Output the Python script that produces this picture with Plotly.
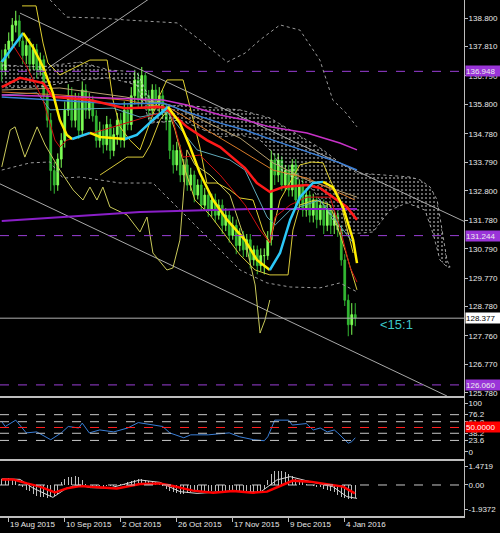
import plotly.graph_objects as go

# ---------------- price bars (daily, 17 Aug 2015 .. 7 Jan 2016) ----------------
opens = [137.30,137.00,137.70,138.00,138.55,138.70,138.00,137.50,137.85,137.20,
 137.70,137.00,137.35,136.10,135.25,133.50,133.00,133.90,134.55,135.60,
 136.10,135.25,135.95,134.90,136.30,135.60,135.95,135.40,134.55,134.90,
 134.40,135.10,134.20,134.75,135.25,134.55,135.60,135.10,136.10,136.65,
 135.95,136.80,136.10,135.60,136.30,135.80,136.10,135.60,135.25,134.20,
 133.70,134.20,133.35,133.70,133.00,133.35,132.65,133.00,132.30,132.65,
 132.13,132.48,131.95,132.30,131.60,131.95,131.25,131.60,130.90,131.25,
 130.75,131.10,130.40,130.75,130.20,130.55,130.55,131.10,133.87,133.35,
 133.87,133.00,133.50,132.83,133.70,132.48,133.00,132.13,132.65,131.95,
 132.48,131.80,132.30,131.60,132.13,131.60,131.95,131.44,130.40,129.00,
 128.15,128.50]
highs = [137.70,137.90,138.30,138.80,139.05,138.90,138.30,138.10,138.10,137.90,
 137.90,137.60,137.50,136.40,135.50,133.80,134.10,134.80,135.90,136.50,
 136.40,136.20,136.20,136.60,136.50,136.20,136.10,135.60,135.20,135.10,
 135.40,135.30,135.00,135.50,135.50,135.90,135.80,136.40,137.00,136.90,
 137.10,136.90,136.30,136.50,136.50,136.40,136.30,135.80,135.40,134.40,
 134.50,134.40,133.90,133.90,133.60,133.50,133.20,133.20,132.90,132.80,
 132.70,132.70,132.50,132.50,132.20,132.10,131.90,131.80,131.50,131.40,
 131.30,131.30,130.90,130.90,130.80,130.80,131.40,134.20,134.10,134.10,
 134.00,133.70,133.70,133.90,133.90,133.20,133.20,132.90,132.80,132.70,
 132.60,132.50,132.50,132.40,132.30,132.20,132.10,131.60,130.60,129.20,
 128.90,128.90]
lows = [136.60,136.80,137.40,137.80,138.30,137.80,137.20,137.20,136.90,137.00,
 136.70,136.80,135.90,135.00,132.80,132.70,132.80,133.60,134.30,135.40,
 135.00,135.00,134.60,134.70,135.30,135.30,135.20,134.30,134.30,134.10,
 134.20,133.90,134.00,134.40,134.30,134.30,134.90,134.90,135.80,135.70,
 135.70,135.90,135.30,135.40,135.60,135.50,135.30,134.90,133.90,133.40,
 133.50,133.10,133.10,132.80,132.80,132.40,132.50,132.10,132.10,131.90,
 131.90,131.70,131.80,131.30,131.40,131.00,131.10,130.60,130.70,130.50,
 130.50,130.10,130.20,129.90,130.00,129.90,130.40,130.90,133.00,133.10,
 132.80,132.80,132.60,132.60,132.20,132.20,131.90,131.90,131.70,131.70,
 131.50,131.60,131.30,131.40,131.30,131.30,131.20,130.20,128.80,127.75,
 127.80,128.10]
closes = [137.00,137.70,138.00,138.55,138.70,138.00,137.50,137.85,137.20,137.70,
 137.00,137.35,136.10,135.25,133.50,133.00,133.90,134.55,135.60,136.10,
 135.25,135.95,134.90,136.30,135.60,135.95,135.40,134.55,134.90,134.40,
 135.10,134.20,134.75,135.25,134.55,135.60,135.10,136.10,136.65,135.95,
 136.80,136.10,135.60,136.30,135.80,136.10,135.60,135.25,134.20,133.70,
 134.20,133.35,133.70,133.00,133.35,132.65,133.00,132.30,132.65,132.13,
 132.48,131.95,132.30,131.60,131.95,131.25,131.60,130.90,131.25,130.75,
 131.10,130.40,130.75,130.20,130.55,130.55,131.10,133.87,133.35,133.87,
 133.00,133.50,132.83,133.70,132.48,133.00,132.13,132.65,131.95,132.48,
 131.80,132.30,131.60,132.13,131.60,131.95,131.44,130.40,129.00,128.15,
 128.50,128.38]
bars = list(range(len(closes)))

# date labels (bar index of each labelled date)
date_tick_bars = [2, 18, 34, 50, 66, 82, 98]
date_tick_text = ["19 Aug 2015", "10 Sep 2015", "2 Oct 2015", "26 Oct 2015",
                  "17 Nov 2015", "9 Dec 2015", "4 Jan 2016"]

price_ticks = [138.800, 137.810, 136.790, 135.800, 134.780, 133.790, 132.800,
               131.780, 130.790, 129.770, 128.780, 127.760, 126.770, 125.780]

# ---------------- overlay indicators (bar index, price) ----------------
ma_x = [0,6.1,8.9,11.8,14.6,16.6,18.6,20.1,25.2,28.1,35.2,38.6,43.2,47.5,50.9,53.8,
        56.6,60.4,64.4,69.5,72.9,76.6,79.5,82.4,85.2,88.9,91.8,94.6,97.5,100.4,101.5]
ma_y = [137.27,138.28,137.79,137.10,136.20,135.26,134.74,134.60,134.81,134.67,134.60,
        134.74,135.26,135.71,135.15,134.32,133.42,132.48,131.79,131.09,130.40,130.05,
        130.64,131.79,132.58,133.07,133.11,132.93,132.24,131.09,130.29]

red_x = [0,5.2,11.8,14.6,25.2,35.2,46.1,48.1,52.9,58.6,62.4,69.5,72.9,76.6,80.4,87.2,
         90.9,94.6,98.6,101.5]
red_y = [136.40,136.72,136.54,136.06,135.95,135.67,135.71,135.54,135.02,134.56,134.32,
         133.59,133.07,132.76,132.93,133.00,132.90,132.58,132.24,131.79]

magenta_x = [0,22.4,46.1,52.9,62.4,69.5,76.6,87.2,96.6,101.5]
magenta_y = [136.13,136.06,135.95,135.78,135.43,135.26,135.02,134.81,134.46,134.22]

blue_x = [0,33.8,46.1,52.9,62.4,69.5,77.5,87.2,96.6,101.5]
blue_y = [136.06,135.81,135.85,135.54,135.15,134.91,134.56,134.15,133.77,133.52]

tan_x = [0,16.6,35.2,48.1,68.1,77.5,87.2,101.5]
tan_y = [136.30,136.37,136.06,135.78,134.63,133.77,133.18,132.58]

orange_x = [0,16.6,35.2,48.1,68.1,77.5,87.2,100.9]
orange_y = [136.23,136.13,135.95,135.67,134.22,133.52,133.24,132.48]

teal_x = [0,10.1,13.8,31.8,39.5,47.2,55.8,65.2,69.5,75.8,78.1,82.4,90.9,96.6,100.9]
teal_y = [136.13,136.20,135.61,135.67,135.36,135.54,134.22,133.87,133.52,131.89,131.61,
          132.13,132.48,131.61,130.92]

darkred_x = [0,3.2,7.2,11.8,15.2,16.6,18.6,22.4,33.8,48.1,51.8,56.6,62.4,69.5,73.8,76.6,
             78.1,82.4,87.2,93.8,96.6,99.5,101.5]
darkred_y = [137.24,137.86,137.10,135.95,134.56,134.32,134.56,134.67,135.09,135.61,133.97,
             134.04,133.35,132.31,131.44,130.99,131.89,132.31,132.58,132.58,131.54,130.15,129.63]

purple_x = [0,16.6,39.5,70.9,101.5]
purple_y = [131.75,131.89,132.06,132.17,132.17]

yel_a_x = [5.8,9.8,11.8,13.2,16.6,23.8,25.2,30.1,31.8,33.8,36.6,39.5,45.2,47.2,51.8,
           53.8,56.6,58.6,61.5,65.2,68.1,71.8,74.6,76.6,79.5,85.2,88.6,91.8,93.8,96.6,100.4]
yel_a_y = [139.22,139.22,137.93,137.24,136.82,137.27,137.34,137.34,135.95,135.02,134.56,
           134.22,136.13,136.65,136.65,135.71,134.32,133.07,133.07,132.83,132.55,132.48,
           131.44,130.99,132.48,133.70,133.80,133.77,133.18,132.48,130.64]

yel_b_x = [28.1,32.4,35.8,40.4,42.4,45.2,47.5,49.5,52.4,55.2,59.5,63.8,68.1,72.4,76.6,
           81.8,83.2,85.2,89.5,93.8,98.1,101.5]
yel_b_y = [133.35,133.70,133.97,133.97,134.39,135.26,135.61,134.91,133.52,132.48,131.96,
           131.27,130.57,130.05,129.88,129.88,131.44,132.31,132.48,132.31,130.74,129.36]

olive_x = [0,2.4,3.8,6.6,10.1,12.4,16.6,20.4,23.2,25.2,27.2,28.9,30.9,35.8,39.5,41.5,
           43.2,47.2,48.9,50.9,51.8,52.9,55.2,59.5,65.2,69.5,72.4,73.8,75.2,76.6]
olive_y = [133.63,134.91,135.02,133.97,135.02,134.39,133.52,132.83,132.48,132.93,132.48,
           132.93,132.24,131.96,131.37,131.89,130.64,130.05,130.12,131.09,132.48,134.22,
           133.70,133.35,132.65,131.09,129.53,127.86,128.31,129.01]

band_up_x = [13.8,18.6,28.1,35.8,50.1,56.6,64.4,69.5,73.8,79.5,85.2,90.9,94.6,98.1,101.5]
band_up_y = [139.43,138.83,138.80,138.73,138.63,138.04,137.27,137.58,138.04,138.56,
             138.38,137.34,135.95,135.54,135.02]
band_dn_x = [0,8.1,13.8,17.5,22.4,33.8,43.2,56.6,68.1,75.8,82.4,90.9,96.6,101.5]
band_dn_y = [133.52,133.77,133.80,133.24,133.28,133.07,133.07,131.44,130.05,129.60,
             129.46,129.43,129.60,129.29]

# Ichimoku cloud edges (extends into the future)
cloud_top_x = [0,10.9,22.4,30.9,38.6,42.4,46.6,50.9,68.1,76.6,82.4,87.2,91.8,96.6,101.5,
               108.9,116.6,119.5,122.4,124.4,125.8,127.2,128.1]
cloud_top_y = [137.17,137.10,137.27,136.99,136.93,135.95,135.71,135.78,135.61,135.33,
               134.91,134.56,134.22,133.77,133.42,133.35,133.28,133.18,132.93,132.48,
               131.44,130.40,130.15]
cloud_bot_x = [0,10.9,22.4,30.9,38.6,42.4,46.6,50.9,62.4,68.1,73.8,77.5,80.4,85.2,88.9,
               93.8,96.6,102.4,106.1,110.9,115.8,120.9,123.2,125.2,127.2,128.1]
cloud_bot_y = [136.37,136.40,136.65,136.72,136.47,135.15,135.19,135.26,134.67,134.74,
               134.56,134.11,133.42,133.18,132.83,131.96,131.33,131.33,131.37,132.13,
               132.38,132.13,131.33,130.40,130.15,130.15]

# trend lines (bar, price) pairs
trend_lines = [
    ([5.2, 132.4], [138.97, 131.72]),
    ([-0.5, 127.2], [133.04, 125.675]),
    ([13.2, 42.4], [137.06, 139.49]),
]

level_prices = [136.948, 131.244, 126.060]
current_price = 128.377

# ---------------- sub-window 1 (oscillator 0..100) ----------------
rsi_x = [0,1,4,6,7,10,14,17,19,22,23,25,28,32,36,39,42,44,46,48,52,54,59,62,65,68,72,
         75,76,78,82,83,87,89,91,93,95,96,99,100,101]
rsi_y = [62,52,65,49,39,41,25,39,52,49,59,39,45,41,49,60,57,55,52,39,29,35,35,37,39,31,
         25,23,31,65,65,55,58,45,49,41,45,39,18,21,29]
rsi_levels = [76.2, 61.8, 38.2, 23.6]
rsi_ticks = [100, 76.2, 61.8, 38.2, 23.6, 0]

# ---------------- sub-window 2 (MACD-like) ----------------
hist = [0.45,0.5,0.55,0.5,0.45,
        0.1,-0.2,-0.4,-0.5,
        -0.7,-0.85,-0.95,-1.0,-1.05,-1.0,-0.9,-0.7,
        0.2,0.45,0.6,0.65,0.7,0.6,0.4,
        0.1,0.0,-0.05,-0.1,-0.1,-0.15,-0.1,-0.1,-0.05,0.0,0.05,0.1,
        0.2,0.3,0.4,0.45,0.45,0.4,0.3,0.25,0.2,
        0.1,-0.1,-0.3,-0.45,-0.55,-0.65,
        -0.7,-0.7,-0.65,-0.6,-0.6,-0.6,-0.55,-0.55,-0.5,-0.5,-0.5,-0.45,-0.45,-0.5,-0.5,
        -0.5,-0.55,-0.55,-0.55,-0.6,-0.6,-0.6,-0.55,-0.5,-0.3,
        0.4,0.9,1.1,1.15,1.1,1.0,0.9,0.7,0.5,
        0.35,0.2,0.1,0.0,-0.1,-0.15,-0.2,-0.3,
        -0.4,-0.5,-0.6,-0.8,-0.95,-1.05,-1.1,-1.1,-1.05]
sig_x = [0,3.2,7.2,10.9,15.2,18.6,22.4,28.1,32.9,39.5,45.2,48.9,54.6,60.4,66.1,71.8,75.8,
         79.5,83.2,88.1,92.9,97.5,100.9]
sig_y = [0.45,0.45,0.13,-0.13,-0.6,-0.27,-0.08,-0.19,-0.27,0.08,0.13,-0.08,-0.45,-0.61,
         -0.48,-0.61,-0.53,-0.08,0.35,0.27,0.08,-0.13,-0.67]
main_x = [0,5.2,8.9,14.6,18.6,22.4,25.2,30.9,39.5,45.2,50.9,55.8,66.1,73.8,78.6,82.4,88.1,
          94.6,98.6,101.5]
main_y = [0.5,0.45,-0.24,-0.99,-0.24,0,-0.21,-0.24,0.4,0.21,-0.53,-0.67,-0.48,-0.59,0.4,
          0.67,0.27,-0.13,-0.93,-1.07]
macd_ticks = [1.4719, 0.0, -1.9372]
macd_ticktext = ["1.4719", "0.00", "-1.9372"]

# ---------------- figure ----------------
FONT = "Liberation Sans"
AX = "#bdbdbd"
TXT = "#e8e8e8"
FS = 8

fig = go.Figure()

# cloud
fig.add_trace(go.Scatter(
    x=cloud_top_x + cloud_bot_x[::-1], y=cloud_top_y + cloud_bot_y[::-1],
    fill="toself", fillcolor="rgba(0,0,0,0)", mode="lines",
    line=dict(color="rgba(220,220,220,0.7)", width=1, dash="dot"),
    fillpattern=dict(shape=".", fgcolor="#ffffff", bgcolor="rgba(0,0,0,0)",
                     size=4, solidity=0.22),
    hoverinfo="skip", xaxis="x", yaxis="y"))

# dotted bands
for bx, by in [(band_up_x, band_up_y), (band_dn_x, band_dn_y)]:
    fig.add_trace(go.Scatter(x=bx, y=by, mode="lines",
                             line=dict(color="#9a9a9a", width=1, dash="dot"),
                             xaxis="x", yaxis="y"))

# trend lines
for tx, ty in trend_lines:
    fig.add_trace(go.Scatter(x=tx, y=ty, mode="lines",
                             line=dict(color="#a8a8a8", width=1), xaxis="x", yaxis="y"))

# candles
fig.add_trace(go.Candlestick(
    x=bars, open=opens, high=highs, low=lows, close=closes,
    increasing=dict(line=dict(color="#7dff55", width=1), fillcolor="#7dff55"),
    decreasing=dict(line=dict(color="#33b833", width=1), fillcolor="#33b833"),
    whiskerwidth=0, xaxis="x", yaxis="y"))

thin_lines = [
    (olive_x, olive_y, "#c9c95a", 1),
    (yel_b_x, yel_b_y, "#d8c93a", 1),
    (yel_a_x, yel_a_y, "#e0d030", 1),
    (purple_x, purple_y, "#8a1fc8", 2),
    (teal_x, teal_y, "#5fa8b8", 1),
    (tan_x, tan_y, "#b8a070", 1),
    (orange_x, orange_y, "#d77a28", 1),
    (darkred_x, darkred_y, "#d01010", 1),
    (blue_x, blue_y, "#3a7fd8", 1.5),
    (magenta_x, magenta_y, "#c832c8", 1.5),
    (red_x, red_y, "#ff1a1a", 2.5),
]
for lx, ly, col, w in thin_lines:
    fig.add_trace(go.Scatter(x=lx, y=ly, mode="lines", line=dict(color=col, width=w),
                             xaxis="x", yaxis="y"))

# slope-coloured moving average: cyan when rising, yellow when falling
runs = []
start = 0
cur_up = ma_y[1] >= ma_y[0]
for k in range(2, len(ma_y)):
    up = ma_y[k] >= ma_y[k - 1]
    if up != cur_up:
        runs.append((cur_up, start, k - 1))
        start = k - 1
        cur_up = up
runs.append((cur_up, start, len(ma_y) - 1))
for up, s, e in runs:
    fig.add_trace(go.Scatter(x=ma_x[s:e + 1], y=ma_y[s:e + 1], mode="lines",
                             line=dict(color="#2cc8f8" if up else "#ffee00", width=2.5),
                             xaxis="x", yaxis="y"))

# oscillator window
fig.add_trace(go.Scatter(x=rsi_x, y=rsi_y, mode="lines",
                         line=dict(color="#3a7fd8", width=1), xaxis="x2", yaxis="y2"))

# MACD window
fig.add_trace(go.Bar(x=bars, y=hist, width=0.3, marker=dict(color="#bdbdbd", line=dict(width=0)),
                     xaxis="x3", yaxis="y3"))
fig.add_trace(go.Scatter(x=main_x, y=main_y, mode="lines",
                         line=dict(color="#d8d8d8", width=1), xaxis="x3", yaxis="y3"))
fig.add_trace(go.Scatter(x=sig_x, y=sig_y, mode="lines",
                         line=dict(color="#ff0000", width=2.5), xaxis="x3", yaxis="y3"))

shapes = []
for lp in level_prices:
    shapes.append(dict(type="line", xref="paper", x0=0, x1=1, yref="y", y0=lp, y1=lp,
                       line=dict(color="#9a3fd6", width=1, dash="dash")))
shapes.append(dict(type="line", xref="paper", x0=0, x1=1, yref="y",
                   y0=current_price, y1=current_price, line=dict(color="#b0b0b0", width=1)))
for lv in rsi_levels:
    shapes.append(dict(type="line", xref="paper", x0=0, x1=1, yref="y2", y0=lv, y1=lv,
                       line=dict(color="#c8c8c8", width=1, dash="dash")))
shapes.append(dict(type="line", xref="paper", x0=0, x1=1, yref="y2", y0=50, y1=50,
                   line=dict(color="#ff2020", width=1, dash="dash")))
shapes.append(dict(type="line", xref="paper", x0=0, x1=1, yref="y3", y0=0, y1=0,
                   line=dict(color="#c8c8c8", width=1, dash="dash")))

annotations = []
for lp in level_prices:
    annotations.append(dict(xref="paper", x=1, xanchor="left", xshift=1, yref="y", y=lp,
                            text=f"{lp:.3f}", showarrow=False, bgcolor="#9a34d8",
                            font=dict(family=FONT, size=FS, color="#eeeeee"),
                            borderpad=0, width=34, height=10, align="left"))
annotations.append(dict(xref="paper", x=1, xanchor="left", xshift=1, yref="y", y=current_price,
                        text=f"{current_price:.3f}", showarrow=False, bgcolor="#ffffff",
                        font=dict(family=FONT, size=FS, color="#000000"),
                        borderpad=0, width=34, height=10, align="left"))
annotations.append(dict(xref="paper", x=1, xanchor="left", xshift=1, yref="y2", y=50,
                        text="50.0000", showarrow=False, bgcolor="#ff0000",
                        font=dict(family=FONT, size=FS, color="#ffffff"),
                        borderpad=0, width=34, height=10, align="left"))
annotations.append(dict(xref="x", x=107.5, xanchor="left", yref="y", y=128.17,
                        text="&lt;15:1", showarrow=False,
                        font=dict(family=FONT, size=13, color="#3cc8c8")))

yax_common = dict(side="right", showgrid=False, zeroline=False, showline=True,
                  linecolor=AX, linewidth=1, ticks="outside", ticklen=3, tickcolor=AX,
                  ticklabelstandoff=-1,
                  tickfont=dict(family=FONT, size=FS, color=TXT), fixedrange=True)
xax_common = dict(showgrid=False, zeroline=False, showline=True, linecolor=AX,
                  linewidth=1.5, range=[-0.5, 132.07], fixedrange=True)

fig.update_layout(
    width=500, height=533,
    margin=dict(l=0, r=36, t=0, b=17),
    paper_bgcolor="#000000", plot_bgcolor="#000000",
    showlegend=False, hovermode=False, bargap=0,
    font=dict(family=FONT, size=FS, color=TXT),
    xaxis=dict(**xax_common, anchor="y", showticklabels=False, ticks="",
               rangeslider=dict(visible=False)),
    xaxis2=dict(**xax_common, anchor="y2", matches="x", mirror=True,
                showticklabels=False, ticks=""),
    xaxis3=dict(**xax_common, anchor="y3", matches="x", mirror=True,
                tickvals=date_tick_bars, ticktext=date_tick_text, ticks="outside",
                ticklen=4, tickcolor=AX, ticklabelposition="outside right", tickangle=0,
                tickfont=dict(family=FONT, size=FS, color=TXT)),
    yaxis=dict(**yax_common, domain=[0.23256, 1.0], anchor="x",
               range=[125.675, 139.425], tickvals=price_ticks,
               ticktext=[f"{v:.3f}" for v in price_ticks]),
    yaxis2=dict(**yax_common, domain=[0.11047, 0.22868], anchor="x2",
                range=[-14.3, 110.2], tickvals=rsi_ticks,
                ticktext=[str(v) for v in rsi_ticks]),
    yaxis3=dict(**yax_common, domain=[0.0, 0.10659], anchor="x3",
                range=[-2.48, 1.92], tickvals=macd_ticks, ticktext=macd_ticktext),
    shapes=shapes, annotations=annotations,
)

fig.write_html("out.html", config={"displayModeBar": False, "staticPlot": True},
               post_script="document.body.style.margin='0';document.body.style.background='#000';")
